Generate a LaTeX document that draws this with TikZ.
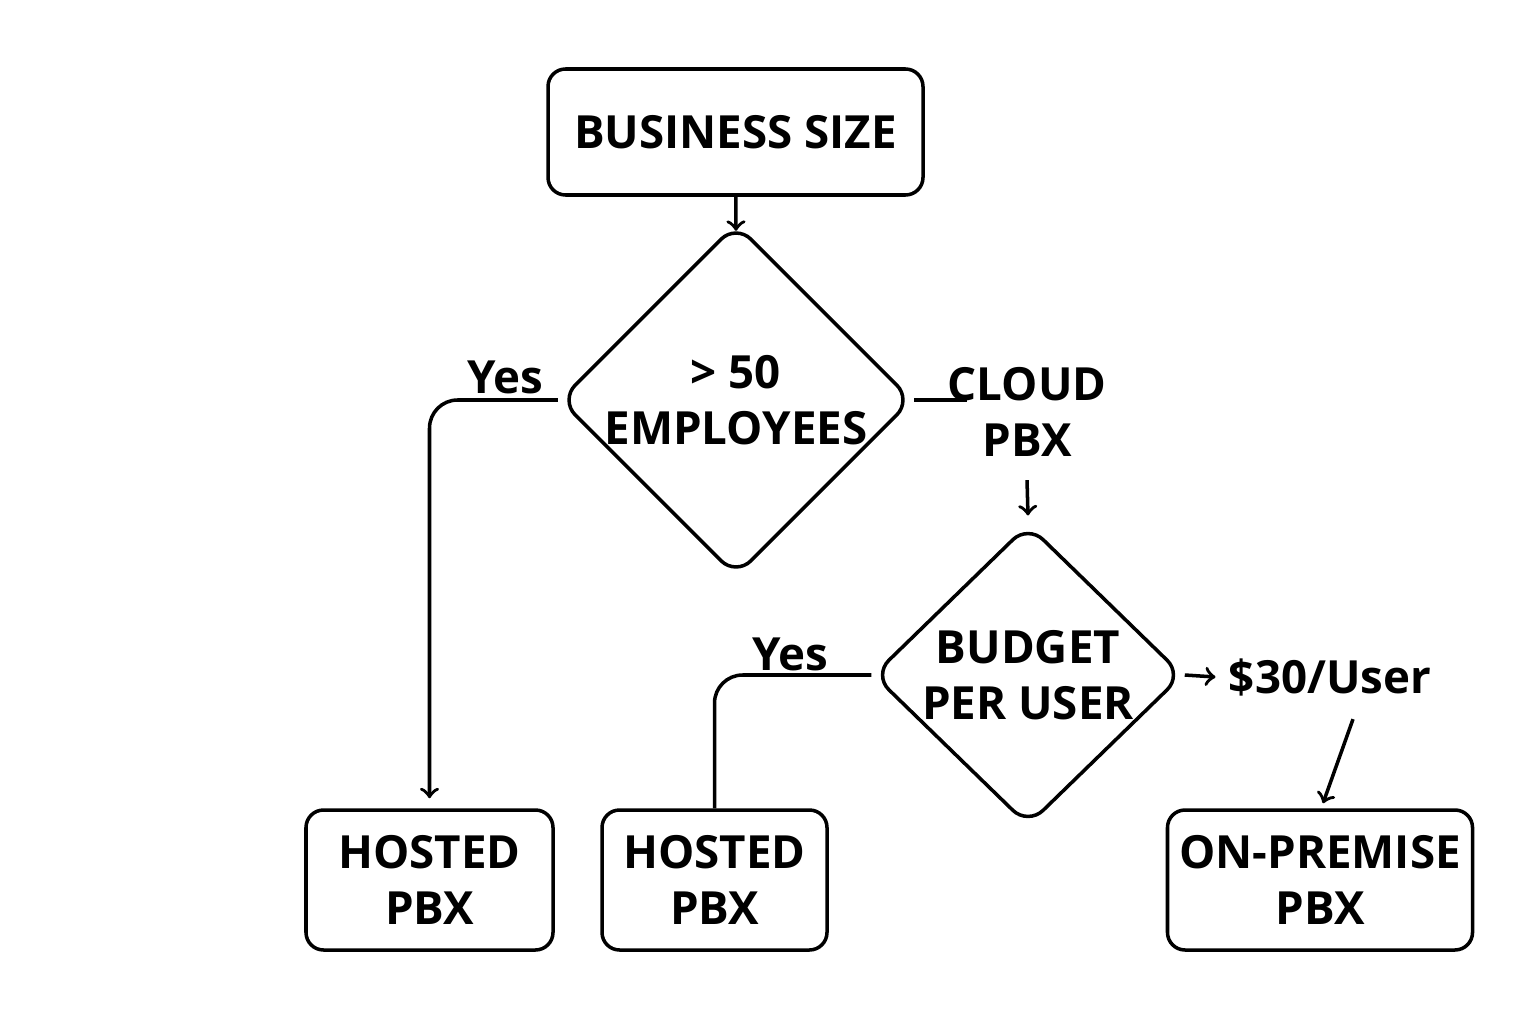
\documentclass[tikz,border=0pt]{standalone}
\usepackage{fontspec}
\setmainfont{Open Sans}
\usetikzlibrary{shapes.geometric}
\begin{document}
\begin{tikzpicture}[>=to, line width=1pt,
	box/.style={draw, rounded corners=5pt, align=center, font=\bfseries\fontsize{13}{16}\selectfont},
	choice/.style={draw, diamond, rounded corners=6pt, inner sep=0pt, align=center, font=\bfseries\fontsize{13}{16}\selectfont},
	lbl/.style={align=center, font=\bfseries\fontsize{13}{16}\selectfont},
	yes/.style={font=\fontsize{13}{16}\selectfont\bfseries}]
	\useasboundingbox (0,0) rectangle (15.36,10.24);
	\node[box, minimum width=3.75cm, minimum height=1.26cm] (size) at (7.355,8.92) {BUSINESS SIZE};
	\node[choice, minimum width=3.08cm, minimum height=2.29cm] (emp) at (7.36,6.24) {> 50\\EMPLOYEES};
	\node[lbl] (cloud) at (10.27,6.12) {CLOUD\\PBX};
	\node[choice, minimum width=3.1cm, minimum height=2.31cm] (budget) at (10.28,3.49) {BUDGET\\PER USER};
	\node[lbl] (price) at (13.3,3.47) {\$30/User};
	\node[box, minimum width=2.47cm, minimum height=1.4cm] (hosta) at (4.295,1.44) {HOSTED\\PBX};
	\node[box, minimum width=2.25cm, minimum height=1.4cm] (hostb) at (7.145,1.44) {HOSTED\\PBX};
	\node[box, minimum width=2.36cm, minimum height=1.4cm] (prem) at (13.2,1.44) {ON-PREMISE\\PBX};
	\node[yes] at (5.05,6.47) {Yes};
	\node[yes] at (7.9,3.7) {Yes};
	\draw[->] (size) -- ([yshift=-0.09cm]emp.north);
	\draw[->, rounded corners=8pt] (emp.west) -| ([yshift=0.1cm]hosta.north);
	\draw (emp.east) -- ++(0.53,0);
	\draw[->] ([yshift=-0.1cm]cloud.south) -- ([yshift=0.07cm]budget.north);
	\draw[rounded corners=8pt] (budget.west) -| (hostb.north);
	\draw[->] (budget.east) -- (price.west);
	\draw[->] ([xshift=0.23cm,yshift=-0.1cm]price.south) -- ([xshift=0.03cm,yshift=0.05cm]prem.north);
\end{tikzpicture}
\end{document}
